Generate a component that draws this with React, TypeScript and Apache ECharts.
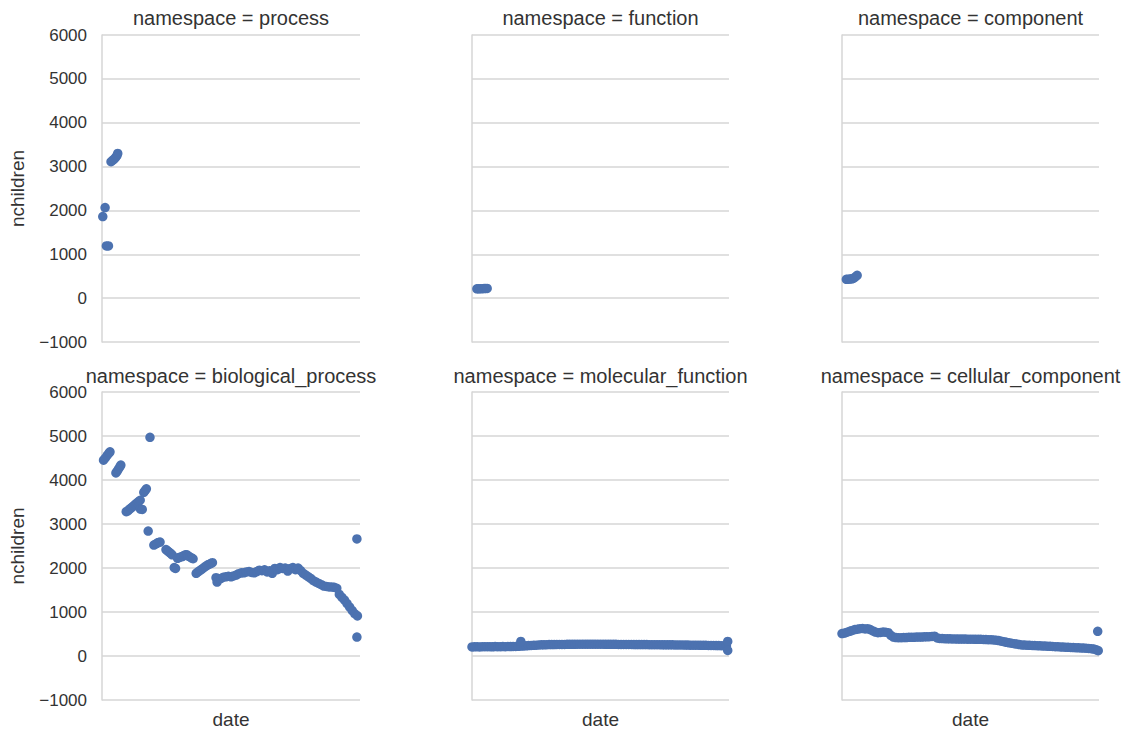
import React, { useEffect, useRef } from "react";
import * as echarts from "echarts";

const panelTitles = [
  "namespace = process",
  "namespace = function",
  "namespace = component",
  "namespace = biological_process",
  "namespace = molecular_function",
  "namespace = cellular_component",
];

const yMin = -1000;
const yMax = 6000;
const yStep = 1000;
const xMin = 0;
const xMax = 100;

// top row
const processDates = [0.3, 1.2, 1.7, 2.5, 3.5, 4.1, 4.7, 5.3, 5.8, 6.1];
const processValues = [1860, 2065, 1190, 1190, 3110, 3140, 3170, 3210, 3250, 3300];

const functionDates = [1.9, 2.6, 3.3, 4.0, 4.7, 5.3, 5.9];
const functionValues = [212, 213, 215, 216, 218, 220, 222];

const componentDates = [1.7, 2.4, 3.1, 3.8, 4.4, 5.1, 5.9];
const componentValues = [430, 432, 435, 440, 450, 480, 520];

// bottom row
const bpDates = [
  0.6, 1.3, 2.0, 2.7, 3.1,
  5.4, 5.9, 6.4, 6.9, 7.3,
  9.4, 10.0, 10.6, 11.2, 11.8, 12.4, 13.0, 13.6, 14.2, 14.8, 14.9, 15.6,
  16.2, 16.7, 17.2, 17.9, 18.6,
  20.1, 20.7, 21.3, 21.9, 22.5,
  24.8, 25.4, 26.0, 26.6, 27.2, 28.0, 28.5,
  29.3, 29.9, 30.5, 31.1, 31.7, 32.3, 32.9, 33.5, 34.1, 34.7, 35.3,
  36.5, 37.2, 37.9, 38.6, 39.3, 40.0, 40.7, 41.4, 42.1, 42.8,
  44.2, 44.6,
  46, 47, 48, 49, 50, 51, 52, 53, 54, 55, 56, 57, 58, 59, 60, 61, 62, 63, 64, 65,
  66, 67, 68, 69, 70, 71, 72, 73, 74, 75, 76, 77, 78, 79, 80, 81, 82, 83, 84, 85,
  86, 87, 88, 89, 90, 91, 92, 93, 94, 95, 96, 97, 98, 99,
  98.8, 98.8,
];
const bpValues = [
  4450, 4500, 4560, 4610, 4640,
  4160, 4200, 4250, 4300, 4340,
  3280, 3300, 3330, 3360, 3390, 3420, 3450, 3480, 3510, 3540, 3340, 3330,
  3720, 3760, 3800, 2840, 4970,
  2520, 2540, 2560, 2580, 2590,
  2420, 2390, 2360, 2330, 2300, 2010, 1990,
  2220, 2240, 2250, 2260, 2280, 2300, 2300, 2270, 2250, 2230, 2210,
  1880, 1910, 1940, 1970, 2000, 2030, 2060, 2080, 2100, 2120,
  1780, 1680,
  1760, 1790, 1800, 1810, 1800, 1820, 1840, 1870, 1890, 1890, 1910, 1920, 1900, 1890, 1920, 1950, 1940, 1960, 1910, 1940,
  1880, 1990, 1960, 2010, 1990, 2000, 1930, 1990, 2010, 1960, 2000, 1940, 1880, 1840, 1800, 1760, 1710, 1680, 1650, 1620,
  1590, 1580, 1570, 1570, 1560, 1540, 1400, 1330, 1270, 1190, 1110, 1030, 960, 910,
  2660, 430,
];

// molecular_function: one value per date step 0..99, plus a few extra points
const mfValues = [
  205, 208, 210, 207, 212, 210, 213, 211, 209, 214, 212, 213, 215, 213, 216, 214, 216, 218, 220,
  225, 228, 232, 236, 240, 244, 247, 250, 253, 255, 257, 259,
  260, 261, 262, 263, 264, 264, 265, 265, 266, 266, 267, 267, 267, 268, 268, 268, 268, 268, 267, 267,
  267, 266, 266, 266, 265, 265, 264, 264, 263, 263, 262, 262, 261, 261, 260, 260, 259, 259, 258, 258,
  257, 257, 256, 255, 255, 254, 253, 253, 252, 251, 250, 250, 249, 248, 247, 246, 246, 245, 244, 243,
  242, 241, 240, 239, 238, 236, 235, 233, 230,
];
const mfExtraDates = [19.0, 99.5, 99.5];
const mfExtraValues = [330, 330, 125];

// cellular_component: one value per date step 0..99, plus extra points
const ccValues = [
  510, 520, 540, 560, 580, 600, 610, 620, 625, 615, 620, 600, 570, 545, 530, 535, 545, 540, 530, 470,
  430, 420, 415, 415, 420, 420, 425, 425, 425, 430, 430, 430, 435, 435, 440, 445, 450,
  410, 400, 395, 392, 390, 390, 388, 388, 386, 385, 385, 384, 383, 382, 382, 380, 380, 378, 376, 374, 372, 370, 366,
  360, 350, 338, 325, 312, 300, 290, 280, 270, 260, 252,
  248, 245, 242, 240, 237, 234, 231, 228, 225, 222, 219, 216, 213, 210, 207, 204, 201, 198, 195, 192,
  189, 186, 183, 180, 176, 172, 166, 158, 140,
];
const ccExtraDates = [99.5, 99.7];
const ccExtraValues = [560, 120];

const FONT = "'Liberation Sans', Arial, Helvetica, sans-serif";
const TEXT = "#333333";
const GRID = "#d6d6d6";
const DOT = "#4C72B0";

const boxes = [
  { left: 102, top: 35, width: 258, height: 307 },
  { left: 472, top: 35, width: 257, height: 307 },
  { left: 842, top: 35, width: 257, height: 307 },
  { left: 102, top: 392, width: 258, height: 308 },
  { left: 472, top: 392, width: 257, height: 308 },
  { left: 842, top: 392, width: 257, height: 308 },
];

function pairs(dates: number[], values: number[]) {
  return dates.map((d, i) => [d, values[i]]);
}

export default function App() {
  const ref = useRef<HTMLDivElement>(null);
  useEffect(() => {
    document.body.style.margin = "0";
    const chart = echarts.init(ref.current!, null, { renderer: "svg" });
    const stepDates = mfValues.map((_, i) => i);
    const seriesData = [
      pairs(processDates, processValues),
      pairs(functionDates, functionValues),
      pairs(componentDates, componentValues),
      pairs(bpDates, bpValues),
      pairs(stepDates, mfValues).concat(pairs(mfExtraDates, mfExtraValues)),
      pairs(ccValues.map((_, i) => i), ccValues).concat(pairs(ccExtraDates, ccExtraValues)),
    ];
    const option: any = {
      animation: false,
      backgroundColor: "#ffffff",
      textStyle: { fontFamily: FONT },
      graphic: panelTitles.map((t, i) => ({
        type: "text",
        x: boxes[i].left + boxes[i].width / 2,
        y: i < 3 ? 18 : 376,
        style: {
          text: t,
          fontSize: 20,
          fontFamily: FONT,
          fill: TEXT,
          align: "center",
          verticalAlign: "middle",
        },
      })),
      grid: boxes.map((b) => ({ ...b, containLabel: false })),
      xAxis: boxes.map((_, i) => ({
        type: "value",
        gridIndex: i,
        min: xMin,
        max: xMax,
        show: true,
        name: i >= 3 ? "date" : "",
        nameLocation: "middle",
        nameGap: 10,
        nameTextStyle: { fontSize: 19, color: TEXT, fontFamily: FONT, verticalAlign: "top" },
        axisLine: { show: false },
        axisTick: { show: false },
        axisLabel: { show: false },
        splitLine: { show: false },
      })),
      yAxis: boxes.map((_, i) => ({
        type: "value",
        gridIndex: i,
        min: yMin,
        max: yMax,
        interval: yStep,
        name: i % 3 === 0 ? "nchildren" : "",
        nameLocation: "middle",
        nameGap: 75,
        nameTextStyle: { fontSize: 19, color: TEXT, fontFamily: FONT },
        axisLine: { show: true, lineStyle: { color: GRID, width: 1.5 } },
        axisTick: { show: false },
        axisLabel: {
          show: i % 3 === 0,
          fontSize: 17,
          color: TEXT,
          fontFamily: FONT,
          margin: 15,
          formatter: (v: number) => (v < 0 ? "\u2212" + Math.abs(v) : String(v)),
        },
        splitLine: { show: true, lineStyle: { color: GRID, width: 1.5 } },
      })),
      series: seriesData.map((d, i) => ({
        type: "scatter",
        xAxisIndex: i,
        yAxisIndex: i,
        data: d,
        symbol: "circle",
        symbolSize: 9.5,
        itemStyle: { color: DOT, opacity: 1 },
        emphasis: { disabled: true },
        clip: false,
      })),
    };
    chart.setOption(option);
    return () => chart.dispose();
  }, []);
  return <div ref={ref} style={{ width: 1128, height: 731 }} />;
}
